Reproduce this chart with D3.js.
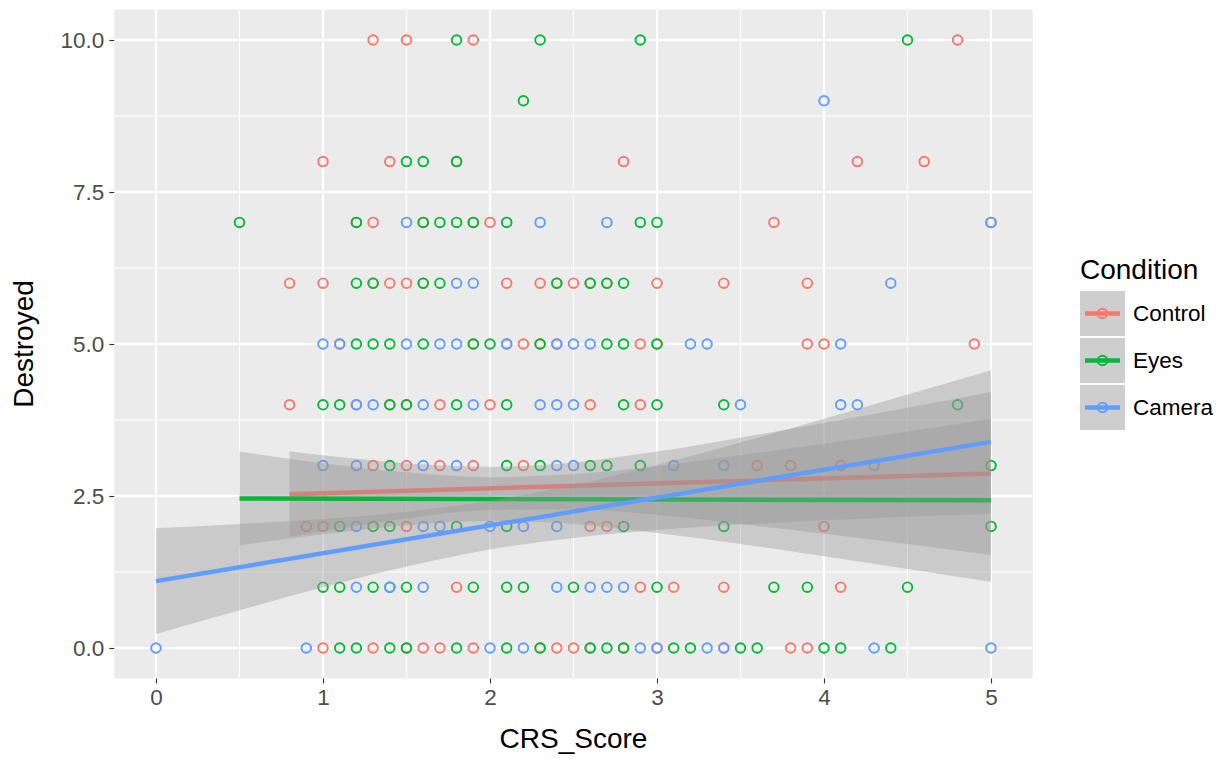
<!DOCTYPE html>
<html>
<head>
<meta charset="utf-8">
<script src="https://cdn.jsdelivr.net/npm/d3@7"></script>
<style>
  html, body { margin: 0; padding: 0; background: #ffffff; }
  svg { display: block; font-family: "Liberation Sans", Arial, Helvetica, sans-serif; }
</style>
</head>
<body>
<svg id="chart" width="1228" height="758"></svg>
<script>
// Condition groups and colours (ggplot default hue palette)
const conditions = ["Control", "Eyes", "Camera"];
const colors = ["#F8766D", "#00BA38", "#619CFF"];

// Observations, grouped by Destroyed value: [Destroyed, [CRS_Score ...]]
const controlRows = [
  [10, [1.3, 1.5, 1.9, 4.8]],
  [8, [1.0, 1.4, 1.8, 2.8, 4.2, 4.6]],
  [7, [1.2, 1.3, 1.6, 1.9, 2.0, 3.7, 5.0]],
  [6, [0.8, 1.0, 1.3, 1.4, 1.5, 1.6, 2.1, 2.3, 2.4, 2.5, 2.6, 2.7, 3.0, 3.4, 3.9]],
  [5, [1.1, 1.9, 2.1, 2.2, 2.3, 2.4, 2.9, 3.0, 3.9, 4.0, 4.9]],
  [4, [0.8, 1.2, 1.4, 1.5, 1.7, 2.0, 2.6, 2.9]],
  [3, [1.3, 1.5, 1.7, 1.9, 2.2, 3.6, 3.8, 4.1]],
  [2, [0.9, 1.0, 1.5, 2.6, 2.7, 4.0]],
  [1, [1.8, 2.9, 3.1, 3.4, 4.1]],
  [0, [1.0, 1.3, 1.5, 1.6, 1.7, 1.9, 2.3, 2.4, 2.5, 2.6, 2.8, 3.0, 3.4, 3.8, 3.9]]
];
const eyesRows = [
  [10, [1.8, 2.3, 2.9, 4.5]],
  [9, [2.2]],
  [8, [1.5, 1.6, 1.8]],
  [7, [0.5, 1.2, 1.6, 1.7, 1.8, 1.9, 2.1, 2.9, 3.0]],
  [6, [1.2, 1.3, 1.6, 1.7, 2.4, 2.6, 2.7, 2.8]],
  [5, [1.2, 1.3, 1.4, 1.6, 1.9, 2.0, 2.3, 2.7, 2.8, 3.0]],
  [4, [1.0, 1.1, 1.4, 1.5, 1.8, 2.1, 2.8, 3.0, 3.4, 4.8]],
  [3, [1.4, 2.1, 2.3, 2.6, 2.7, 2.9, 5.0]],
  [2, [1.1, 1.3, 1.4, 1.8, 2.1, 2.8, 3.4, 5.0]],
  [1, [1.0, 1.1, 1.3, 1.4, 1.5, 1.9, 2.1, 2.2, 2.5, 3.0, 3.7, 3.9, 4.5]],
  [0, [1.1, 1.2, 1.4, 1.5, 1.8, 2.1, 2.3, 2.6, 2.7, 2.8, 3.1, 3.2, 3.5, 3.6, 4.0, 4.1, 4.4]]
];
const cameraRows = [
  [9, [4.0]],
  [7, [1.5, 2.3, 2.7, 5.0]],
  [6, [1.8, 1.9, 4.4]],
  [5, [1.0, 1.1, 1.5, 1.7, 1.8, 2.1, 2.4, 2.5, 2.6, 3.2, 3.3, 4.1]],
  [4, [1.2, 1.3, 1.6, 1.9, 2.3, 2.4, 2.5, 3.5, 4.1, 4.2]],
  [3, [1.0, 1.2, 1.6, 1.8, 2.4, 2.5, 3.1, 3.4, 4.3]],
  [2, [1.2, 1.6, 1.7, 2.0, 2.2, 2.4]],
  [1, [1.2, 1.4, 1.6, 2.4, 2.6, 2.7, 2.8]],
  [0, [0.0, 0.9, 2.0, 2.2, 2.9, 3.0, 3.3, 3.4, 4.3, 5.0]]
];

// Linear fits: start and end of each fitted line [x, y]
const controlFit = [[0.8, 2.53], [5.0, 2.87]];
const eyesFit = [[0.5, 2.46], [5.0, 2.43]];
const cameraFit = [[0.0, 1.10], [5.0, 3.39]];

// 95% confidence bands sampled along x
const controlBandX = [0.8, 1.0, 1.5, 2.0, 2.5, 3.0, 3.5, 4.0, 4.5, 5.0];
const controlBandLo = [1.83, 1.92, 2.13, 2.27, 2.28, 2.19, 2.04, 1.88, 1.71, 1.53];
const controlBandHi = [3.23, 3.17, 3.04, 2.98, 3.05, 3.23, 3.46, 3.70, 3.95, 4.21];

const eyesBandX = [0.5, 1.0, 1.5, 2.0, 2.5, 3.0, 3.5, 4.0, 4.5, 5.0];
const eyesBandLo = [1.69, 1.87, 2.02, 2.09, 2.04, 1.89, 1.71, 1.51, 1.30, 1.09];
const eyesBandHi = [3.23, 3.04, 2.89, 2.81, 2.86, 2.99, 3.17, 3.36, 3.56, 3.77];

const cameraBandX = [0.0, 0.5, 1.0, 1.5, 2.0, 2.5, 3.0, 3.5, 4.0, 4.5, 5.0];
const cameraBandLo = [0.23, 0.62, 1.00, 1.34, 1.62, 1.81, 1.94, 2.03, 2.10, 2.16, 2.21];
const cameraBandHi = [1.97, 2.04, 2.12, 2.24, 2.42, 2.68, 3.01, 3.38, 3.77, 4.17, 4.57];

// Axis ticks
const xTicks = [0, 1, 2, 3, 4, 5];
const xMinor = [0.5, 1.5, 2.5, 3.5, 4.5];
const yTicks = [0, 2.5, 5, 7.5, 10];
const yMinor = [1.25, 3.75, 6.25, 8.75];

const groups = [
  { rows: controlRows, fit: controlFit, bx: controlBandX, lo: controlBandLo, hi: controlBandHi },
  { rows: eyesRows, fit: eyesFit, bx: eyesBandX, lo: eyesBandLo, hi: eyesBandHi },
  { rows: cameraRows, fit: cameraFit, bx: cameraBandX, lo: cameraBandLo, hi: cameraBandHi }
];

const svg = d3.select("#chart");
const panel = { left: 114.25, right: 1032.75, top: 9.6, bottom: 678.4 };

const x = d3.scaleLinear().domain([-0.25, 5.25]).range([panel.left, panel.right]);
const y = d3.scaleLinear().domain([-0.5, 10.5]).range([panel.bottom, panel.top]);

// Panel background
svg.append("rect")
  .attr("x", panel.left).attr("y", panel.top)
  .attr("width", panel.right - panel.left).attr("height", panel.bottom - panel.top)
  .attr("fill", "#EBEBEB");

const grid = svg.append("g");
grid.selectAll(".vminor").data(xMinor).join("line")
  .attr("x1", d => x(d)).attr("x2", d => x(d))
  .attr("y1", panel.top).attr("y2", panel.bottom)
  .attr("stroke", "#fff").attr("stroke-width", 1.1);
grid.selectAll(".hminor").data(yMinor).join("line")
  .attr("y1", d => y(d)).attr("y2", d => y(d))
  .attr("x1", panel.left).attr("x2", panel.right)
  .attr("stroke", "#fff").attr("stroke-width", 1.1);
grid.selectAll(".vmajor").data(xTicks).join("line")
  .attr("x1", d => x(d)).attr("x2", d => x(d))
  .attr("y1", panel.top).attr("y2", panel.bottom)
  .attr("stroke", "#fff").attr("stroke-width", 2.2);
grid.selectAll(".hmajor").data(yTicks).join("line")
  .attr("y1", d => y(d)).attr("y2", d => y(d))
  .attr("x1", panel.left).attr("x2", panel.right)
  .attr("stroke", "#fff").attr("stroke-width", 2.2);

// Points
const pts = svg.append("g");
groups.forEach((g, i) => {
  const flat = g.rows.flatMap(([yy, xs]) => xs.map(xx => [xx, yy]));
  pts.selectAll(null).data(flat).join("circle")
    .attr("cx", d => x(d[0])).attr("cy", d => y(d[1]))
    .attr("r", 4.8)
    .attr("fill", "none")
    .attr("stroke", colors[i])
    .attr("stroke-width", 1.9);
});

// Smooths: ribbon then line, per group
const area = d3.area().curve(d3.curveMonotoneX)
  .x(d => x(d.x)).y0(d => y(d.lo)).y1(d => y(d.hi));
const line = d3.line().x(d => x(d[0])).y(d => y(d[1]));
const smooth = svg.append("g");
groups.forEach((g, i) => {
  const band = g.bx.map((bx, k) => ({ x: bx, lo: g.lo[k], hi: g.hi[k] }));
  smooth.append("path").datum(band)
    .attr("d", area)
    .attr("fill", "#999999").attr("fill-opacity", 0.4);
  smooth.append("path").datum(g.fit)
    .attr("d", line)
    .attr("fill", "none")
    .attr("stroke", colors[i])
    .attr("stroke-width", 4.4);
});

// Axes
const xAxis = svg.append("g")
  .attr("transform", `translate(0,${panel.bottom})`)
  .call(d3.axisBottom(x).tickValues(xTicks).tickFormat(d3.format("d")).tickSize(5).tickPadding(6));
const yAxis = svg.append("g")
  .attr("transform", `translate(${panel.left},0)`)
  .call(d3.axisLeft(y).tickValues(yTicks).tickFormat(d3.format(".1f")).tickSize(5).tickPadding(5));
[xAxis, yAxis].forEach(a => {
  a.select(".domain").remove();
  a.selectAll(".tick line").attr("stroke", "#333333").attr("stroke-width", 1.1);
  a.selectAll(".tick text")
    .attr("fill", "#4D4D4D")
    .style("font-size", "22.5px")
    .style("font-family", "'Liberation Sans', Arial, sans-serif");
});

// Axis titles
svg.append("text")
  .attr("x", (panel.left + panel.right) / 2).attr("y", 748)
  .attr("text-anchor", "middle")
  .style("font-size", "28px").attr("fill", "#000")
  .text("CRS_Score");
svg.append("text")
  .attr("transform", `translate(33,${(panel.top + panel.bottom) / 2}) rotate(-90)`)
  .attr("text-anchor", "middle")
  .style("font-size", "28px").attr("fill", "#000")
  .text("Destroyed");

// Legend
const legend = svg.append("g");
legend.append("text")
  .attr("x", 1080).attr("y", 279)
  .style("font-size", "28px").attr("fill", "#000")
  .text("Condition");
conditions.forEach((c, i) => {
  const top = 291 + i * 47;
  const key = legend.append("g");
  key.append("rect")
    .attr("x", 1080).attr("y", top).attr("width", 45).attr("height", 45)
    .attr("fill", "#F2F2F2");
  key.append("rect")
    .attr("x", 1080).attr("y", top).attr("width", 45).attr("height", 45)
    .attr("fill", "#999999").attr("fill-opacity", 0.4);
  key.append("line")
    .attr("x1", 1085).attr("x2", 1120)
    .attr("y1", top + 22.5).attr("y2", top + 22.5)
    .attr("stroke", colors[i]).attr("stroke-width", 4.4);
  key.append("circle")
    .attr("cx", 1102.5).attr("cy", top + 22.5).attr("r", 4.8)
    .attr("fill", "none").attr("stroke", colors[i]).attr("stroke-width", 1.9);
  legend.append("text")
    .attr("x", 1133).attr("y", top + 22.5)
    .attr("dominant-baseline", "central")
    .style("font-size", "22.5px").attr("fill", "#000")
    .text(c);
});
</script>
</body>
</html>
